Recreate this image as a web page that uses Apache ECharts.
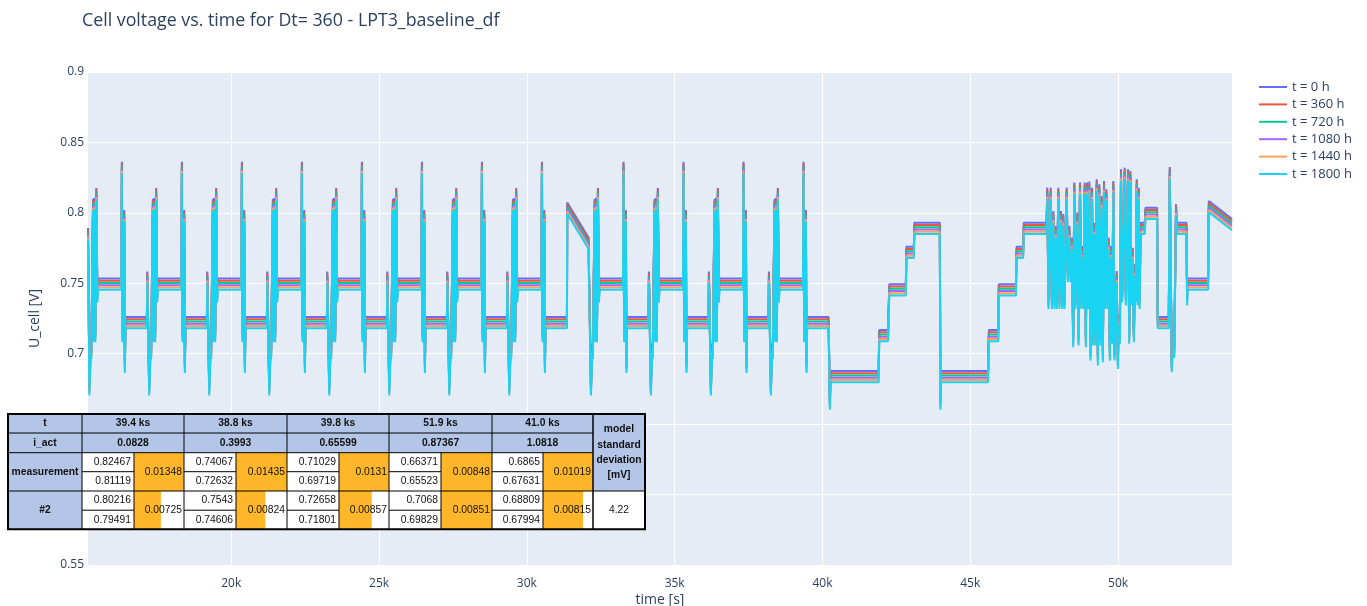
<!DOCTYPE html>
<html>
<head>
<meta charset="utf-8">
<script src="https://cdn.jsdelivr.net/npm/echarts@6/dist/echarts.min.js"></script>
<style>
  html, body { margin: 0; padding: 0; background: #fff; }
  #chart { width: 1367px; height: 606px; }
</style>
</head>
<body>
<div id="chart"></div>
<script>
// ---- series ----
const SERIES_NAMES = ['t = 0 h', 't = 360 h', 't = 720 h', 't = 1080 h', 't = 1440 h', 't = 1800 h'];
const SERIES_COLORS = ['#636efa', '#EF553B', '#00cc96', '#ab63fa', '#FFA15A', '#19d3f3'];
// voltage loss of each ageing state against the reference profile [V]
const AGEING_SHIFT = [0.0007, 0.0023, 0.0039, 0.0055, 0.0071, 0.0087];

// ---- reference voltage profile [time s, U V] ----
const LEAD_IN = [
  [15154, 0.790], [15172, 0.754], [15200, 0.679], [15245, 0.7076], [15268, 0.705],
  [15325, 0.8105], [15345, 0.717], [15372, 0.8115], [15403, 0.7168], [15436, 0.8183],
  [15470, 0.745], [15494, 0.7541]
];
// load pulse followed by the low plateau (time relative to the pulse peak)
const PULSE_SHAPE = [
  [-17, 0.7541], [0, 0.837], [20, 0.7168], [78, 0.8027], [101, 0.695], [122, 0.7268], [846, 0.7268]
];
// recovery spikes back to the high plateau (time relative to recovery start)
const RECOVERY_SHAPE = [
  [0, 0.759], [21, 0.736], [65, 0.679], [109, 0.7076], [132, 0.705], [190, 0.8105],
  [210, 0.717], [237, 0.8115], [268, 0.7168], [301, 0.8183], [335, 0.745], [359, 0.7541]
];
const PULSE_TIMES = [16300, 18330, 20360, 22390, 24420, 26450, 28480, 30510, 33270, 35300, 37330, 39360];
const RECOVERY_TIMES = [17159, 19189, 21219, 23249, 25279, 27309, 29339, 32103, 34129, 36159, 38189];
const RAMP = [[31365, 0.808], [32090, 0.783]];
const STAIRCASE = [
  [40250, 0.669], [40275, 0.6884], [41900, 0.6884],
  [41920, 0.7175], [42220, 0.7175],
  [42260, 0.75], [42820, 0.75],
  [42840, 0.7767], [43090, 0.7767],
  [43110, 0.7937], [43970, 0.7937],
  [43990, 0.669], [44010, 0.6884], [45600, 0.6884],
  [45630, 0.7175], [45945, 0.7175],
  [45965, 0.75], [46545, 0.75],
  [46565, 0.7767], [46790, 0.7767],
  [46810, 0.7937], [47580, 0.7937]
];
const DYNAMIC = [
  [47606, 0.8186], [47646, 0.7405], [47721, 0.8186], [47761, 0.7405],
  [47809, 0.8020], [47849, 0.7405], [47890, 0.7914], [47930, 0.7405],
  [47978, 0.8186], [48018, 0.7405], [48069, 0.8020], [48109, 0.7405],
  [48147, 0.8000], [48187, 0.7405], [48262, 0.8186], [48302, 0.7594],
  [48350, 0.7914], [48390, 0.7594], [48441, 0.7831], [48481, 0.7133],
  [48519, 0.8222], [48559, 0.7405], [48621, 0.8010], [48661, 0.7145],
  [48712, 0.8222], [48752, 0.7405], [48790, 0.7772], [48830, 0.7405],
  [48871, 0.8222], [48911, 0.7133], [48949, 0.8222], [48989, 0.7405],
  [49027, 0.8229], [49067, 0.7038], [49118, 0.8186], [49158, 0.7145],
  [49196, 0.7937], [49236, 0.7145], [49277, 0.8245], [49317, 0.7003],
  [49365, 0.8210], [49405, 0.7145], [49446, 0.8127], [49486, 0.7026],
  [49524, 0.8233], [49564, 0.7405], [49602, 0.8174], [49642, 0.7405],
  [49683, 0.7831], [49723, 0.7038], [49761, 0.7772], [49801, 0.7157],
  [49839, 0.8233], [49879, 0.7038], [49954, 0.7594], [49994, 0.6979],
  [50021, 0.7287], [50061, 0.7157], [50099, 0.8316], [50139, 0.7452],
  [50224, 0.8328], [50264, 0.7429], [50336, 0.8316], [50376, 0.7157],
  [50414, 0.8304], [50454, 0.7429], [50495, 0.7760], [50535, 0.7168],
  [50573, 0.7642], [50613, 0.7452], [50631, 0.8245], [50665, 0.7429],
  [50698, 0.8186], [50730, 0.7405]
];
const ENDING = [
  [50760, 0.7937], [50905, 0.7937], [50925, 0.8043], [51320, 0.8043],
  [51340, 0.7268], [51715, 0.7268], [51748, 0.8333], [51815, 0.6955],
  [51840, 0.7076], [51900, 0.7060], [51960, 0.8068], [51985, 0.7937],
  [52315, 0.7937], [52335, 0.7429], [52350, 0.7541], [53045, 0.7541],
  [53070, 0.8091], [53854, 0.7963]
];

// ---- table ----
const TAB_T = ['39.4 ks', '38.8 ks', '39.8 ks', '51.9 ks', '41.0 ks'];
const TAB_I = ['0.0828', '0.3993', '0.65599', '0.87367', '1.0818'];
const MEAS_HI = [0.82467, 0.74067, 0.71029, 0.66371, 0.6865];
const MEAS_LO = [0.81119, 0.72632, 0.69719, 0.65523, 0.67631];
const MEAS_DIFF = [0.01348, 0.01435, 0.0131, 0.00848, 0.01019];
const M2_HI = [0.80216, 0.7543, 0.72658, 0.7068, 0.68809];
const M2_LO = [0.79491, 0.74606, 0.71801, 0.69829, 0.67994];
const M2_DIFF = [0.00725, 0.00824, 0.00857, 0.00851, 0.00815];
const MODEL_STD = '4.22';

// assemble the reference profile
function buildProfile() {
  const pts = LEAD_IN.slice();
  PULSE_TIMES.forEach(t0 => PULSE_SHAPE.forEach(([dt, v]) => pts.push([t0 + dt, v])));
  RECOVERY_TIMES.forEach(t0 => RECOVERY_SHAPE.forEach(([dt, v]) => pts.push([t0 + dt, v])));
  pts.push(...RAMP, ...STAIRCASE, ...DYNAMIC, ...ENDING);
  pts.sort((a, b) => a[0] - b[0]);
  return pts;
}
const PROFILE = buildProfile();

const series = SERIES_NAMES.map((name, i) => ({
  name,
  type: 'line',
  showSymbol: false,
  symbol: 'none',
  animation: false,
  lineStyle: { width: 2, color: SERIES_COLORS[i] },
  itemStyle: { color: SERIES_COLORS[i] },
  data: PROFILE.map(([t, v]) => [t, +(v - AGEING_SHIFT[i]).toFixed(5)])
}));

// ---- table drawing (own layer, above the plot) ----
const FONT = 'Liberation Sans, Arial, sans-serif';
const BLUE = '#B4C6E7', ORANGE = '#FFB628', INK = '#111';
const TZ = 200, TLAYER = 1;
const X0 = 8, XH = 82, XS = 593, X1 = 645;
const GROUPS = [[82, 134, 184], [184, 236, 287], [287, 339, 389], [389, 441, 492], [492, 543, 593]];
const R = [414, 433, 452.7, 471.7, 491, 510.2, 529.3];
const els = [];
function rect(x, y, w, h, fill) {
  els.push({ type: 'rect', zlevel: TLAYER, z: TZ, shape: { x, y, width: w, height: h }, style: { fill }, silent: true });
}
function line(x1, y1, x2, y2, w) {
  els.push({ type: 'line', zlevel: TLAYER, z: TZ + 1, shape: { x1, y1, x2, y2 }, style: { stroke: '#000', lineWidth: w || 1 }, silent: true });
}
function text(x, y, s, align, bold, extra) {
  els.push({
    type: 'text', zlevel: TLAYER, z: TZ + 2, silent: true,
    style: Object.assign({
      x, y, text: s, fill: INK,
      font: (bold ? 'bold ' : '') + '10.3px ' + FONT,
      align, textAlign: align, verticalAlign: 'middle', textVerticalAlign: 'middle'
    }, extra || {})
  });
}
rect(X0, R[0], X1 - X0, R[6] - R[0], '#fff');
rect(X0, R[0], XH - X0, R[6] - R[0], BLUE);
rect(XH, R[0], XS - XH, R[2] - R[0], BLUE);
rect(XS, R[0], X1 - XS, R[4] - R[0], BLUE);
GROUPS.forEach(([a, m, b], k) => {
  const top = Math.max(MEAS_DIFF[k], M2_DIFF[k]);
  rect(m, R[2], (b - m) * MEAS_DIFF[k] / top, R[4] - R[2], ORANGE);
  rect(m, R[4], (b - m) * M2_DIFF[k] / top, R[6] - R[4], ORANGE);
});
// cell borders
line(X0, R[1], XS, R[1]);
line(X0, R[2], XS, R[2]);
line(X0, R[4], X1, R[4]);
line(XH, R[0], XH, R[6]);
line(XS, R[0], XS, R[6]);
GROUPS.forEach(([a, m, b]) => {
  line(b, R[0], b, R[6]);
  line(m, R[2], m, R[6]);
  line(a, R[3], m, R[3]);
  line(a, R[5], m, R[5]);
});
els.push({ type: 'rect', zlevel: TLAYER, z: TZ + 1, shape: { x: X0, y: R[0], width: X1 - X0, height: R[6] - R[0] },
  style: { fill: 'none', stroke: '#000', lineWidth: 2 }, silent: true });
// cell texts
const cy = (i, j) => (R[i] + R[j]) / 2;
text((X0 + XH) / 2, cy(0, 1), 't', 'center', true);
text((X0 + XH) / 2, cy(1, 2), 'i_act', 'center', true);
text((X0 + XH) / 2, cy(2, 4), 'measurement', 'center', true);
text((X0 + XH) / 2, cy(4, 6), '#2', 'center', true);
GROUPS.forEach(([a, m, b], k) => {
  text((a + b) / 2, cy(0, 1), TAB_T[k], 'center', true);
  text((a + b) / 2, cy(1, 2), TAB_I[k], 'center', true);
  text(m - 3, cy(2, 3), String(MEAS_HI[k]), 'right');
  text(m - 3, cy(3, 4), String(MEAS_LO[k]), 'right');
  text(b - 2, cy(2, 4), String(MEAS_DIFF[k]), 'right');
  text(m - 3, cy(4, 5), String(M2_HI[k]), 'right');
  text(m - 3, cy(5, 6), String(M2_LO[k]), 'right');
  text(b - 2, cy(4, 6), String(M2_DIFF[k]), 'right');
});
text((XS + X1) / 2, cy(0, 4), 'model\nstandard\ndeviation\n[mV]', 'center', true, { lineHeight: 15.3 });
text((XS + X1) / 2, cy(4, 6), MODEL_STD, 'center');

const AXIS_TEXT = { color: '#2a3f5f', fontFamily: 'Open Sans', fontSize: 12 };

const chart = echarts.init(document.getElementById('chart'), null, { renderer: 'canvas' });
chart.setOption({
  animation: false,
  backgroundColor: '#fff',
  title: {
    text: 'Cell voltage vs. time for Dt= 360 - LPT3_baseline_df',
    left: 82, top: 12, padding: 0,
    textStyle: { fontFamily: 'Open Sans', fontSize: 17.8, fontWeight: 'normal', color: '#2a3f5f' }
  },
  legend: {
    orient: 'vertical', left: 1259, top: 78.5, padding: 0,
    icon: 'rect', itemWidth: 28, itemHeight: 2, itemGap: 0.4,
    textStyle: { color: '#2a3f5f', fontFamily: 'Open Sans', fontSize: 13, lineHeight: 17 },
    data: SERIES_NAMES
  },
  grid: {
    left: 88, right: 135, top: 72, bottom: 41,
    outerBoundsMode: 'none',
    show: true, backgroundColor: '#E5ECF6', borderWidth: 0
  },
  xAxis: {
    type: 'value', min: 15154, max: 53854,
    splitNumber: 8, minInterval: 5000, maxInterval: 5000,
    name: 'time [s]', nameLocation: 'middle', nameGap: 28, nameMoveOverlap: false,
    nameTextStyle: { color: '#2a3f5f', fontFamily: 'Open Sans', fontSize: 14 },
    axisLine: { show: false }, axisTick: { show: false },
    axisLabel: Object.assign({ margin: 13, showMinLabel: false, showMaxLabel: false,
      formatter: v => (v / 1000) + 'k' }, AXIS_TEXT),
    splitLine: { show: true, showMinLine: false, showMaxLine: false, lineStyle: { color: '#fff', width: 1 } }
  },
  yAxis: {
    type: 'value', min: 0.55, max: 0.9, interval: 0.05,
    name: 'U_cell [V]', nameLocation: 'middle', nameGap: 46, nameMoveOverlap: false,
    nameTextStyle: { color: '#2a3f5f', fontFamily: 'Open Sans', fontSize: 14 },
    axisLine: { show: false }, axisTick: { show: false },
    axisLabel: Object.assign({ margin: 4 }, AXIS_TEXT),
    splitLine: { show: true, lineStyle: { color: '#fff', width: 1 } }
  },
  series,
  graphic: { elements: els }
});
</script>
</body>
</html>
